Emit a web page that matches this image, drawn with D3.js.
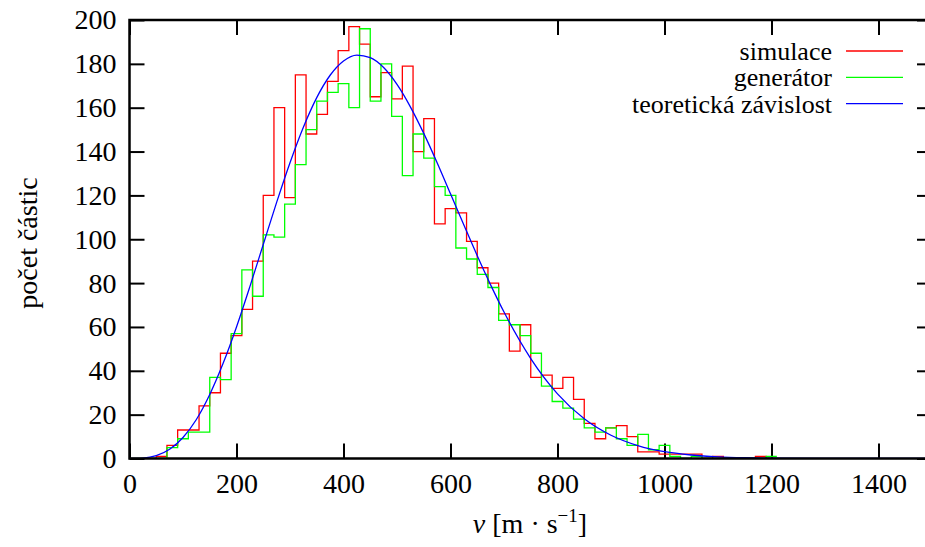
<!DOCTYPE html>
<html lang="cs">
<head>
<meta charset="UTF-8">
<title>Rozdělení rychlostí</title>
<script src="https://cdnjs.cloudflare.com/ajax/libs/d3/7.8.5/d3.min.js"></script>
<style>
    body { margin: 0; background: #fff; }
</style>
</head>
<body>
<svg id="chart" width="925" height="547"></svg>
<script>
// bin centres (width 20 m/s)
const binCenters = d3.range(0, 1201, 20);

// simulace
const simulace = [
    0, 0, 0, 1, 6, 13, 13, 24, 30, 48,
    56, 68, 90, 120, 160, 119, 175, 148, 157, 172,
    186, 197, 189, 165, 176, 164, 179, 140, 155, 107,
    114, 112, 99, 87, 80, 66, 49, 61, 37, 38,
    32, 37, 27, 16, 9, 14, 15, 10, 3, 3,
    2, 2, 2, 2, 0, 1, 0, 0, 0, 1,
    0
];

// generátor
const generator = [
    0, 0, 0, 0, 5, 9, 12, 12, 37, 36,
    57, 86, 74, 102, 101, 116, 134, 150, 163, 167,
    171, 160, 196, 163, 180, 156, 129, 148, 137, 124,
    120, 96, 91, 84, 78, 63, 61, 56, 48, 33,
    26, 23, 18, 14, 12, 14, 9, 6, 11, 4,
    6, 1, 0, 1, 0, 0, 0, 0, 0, 0,
    1
];

// teoretická závislost
const theoryV = [0, 25, 50, 75, 100, 125, 150, 175, 200, 225, 250, 275, 300, 325, 350, 375, 400, 425, 450, 475,
    500, 525, 550, 575, 600, 625, 650, 675, 700, 750, 800, 850, 900, 950, 1000, 1050, 1100, 1150, 1200, 1300, 1500];
const theoryN = [0, 0.2, 1.3, 4.2, 9.6, 17.8, 29.2, 43.4, 60, 78.4, 97.6, 116.8, 134.9, 151.1, 164.6, 174.8, 181.3, 184, 182.8, 178.3,
    170.6, 160.4, 148.3, 134.9, 120.7, 106.5, 92.5, 79.2, 66.8, 45.6, 29.5, 18.1, 10.6, 5.9, 3.1, 1.6, 0.75, 0.34, 0.15, 0.02, 0];

const xTicks = [0, 200, 400, 600, 800, 1000, 1200, 1400];
const yTicks = d3.range(0, 201, 20);

const legendItems = [
    { label: "simulace", color: "#ff0000" },
    { label: "generátor", color: "#00ff00" },
    { label: "teoretická závislost", color: "#0000ff" }
];

const serif = "'Liberation Serif', 'Times New Roman', 'DejaVu Serif', 'Noto Serif', serif";
const fontSize = 28;
const plotL = 129.5, plotR = 932, plotT = 20, plotB = 458.5;
const svg = d3.select("#chart");

const x = d3.scaleLinear().domain([0, 1500]).range([plotL, plotR]);
const y = d3.scaleLinear().domain([0, 200]).range([plotB, plotT]);

svg.append("defs").append("clipPath").attr("id", "plot")
    .append("rect")
    .attr("x", plotL).attr("y", plotT - 2)
    .attr("width", plotR - plotL).attr("height", plotB - plotT + 2);

// axes, ticks inward on all four sides
function styleAxis(g, labels) {
    g.select(".domain").remove();
    g.attr("font-family", serif).attr("font-size", fontSize);
    g.selectAll(".tick line").attr("stroke", "#000").attr("stroke-width", 2);
    if (!labels) g.selectAll(".tick text").remove();
}

svg.append("g").attr("transform", `translate(0,${plotB})`)
    .call(d3.axisBottom(x).tickValues(xTicks).tickSize(-15).tickPadding(15).tickFormat(d3.format("d")))
    .call(g => styleAxis(g, true));
svg.append("g").attr("transform", `translate(0,${plotT})`)
    .call(d3.axisTop(x).tickValues(xTicks).tickSize(-15))
    .call(g => styleAxis(g, false));
svg.append("g").attr("transform", `translate(${plotL},0)`)
    .call(d3.axisLeft(y).tickValues(yTicks).tickSize(-15).tickPadding(13))
    .call(g => styleAxis(g, true));
svg.append("g").attr("transform", `translate(${plotR},0)`)
    .call(d3.axisRight(y).tickValues(yTicks).tickSize(-15))
    .call(g => styleAxis(g, false));

// histograms as steps
const stepLine = d3.line().x(d => x(d[0])).y(d => y(d[1])).curve(d3.curveStepAfter);
function stepPoints(values) {
    const pts = binCenters.map((c, i) => [c - 10, values[i]]);
    pts.push([binCenters[binCenters.length - 1] + 10, values[values.length - 1]]);
    return pts;
}

const plot = svg.append("g").attr("clip-path", "url(#plot)");
plot.append("path").datum(stepPoints(simulace))
    .attr("d", stepLine).attr("fill", "none")
    .attr("stroke", legendItems[0].color).attr("stroke-width", 1.3);
plot.append("path").datum(stepPoints(generator))
    .attr("d", stepLine).attr("fill", "none")
    .attr("stroke", legendItems[1].color).attr("stroke-width", 1.3);
plot.append("path").datum(theoryV.map((v, i) => [v, theoryN[i]]))
    .attr("d", d3.line().x(d => x(d[0])).y(d => y(d[1])).curve(d3.curveMonotoneX))
    .attr("fill", "none")
    .attr("stroke", legendItems[2].color).attr("stroke-width", 1.3);

// frame
svg.append("rect")
    .attr("x", plotL).attr("y", plotT)
    .attr("width", plotR - plotL).attr("height", plotB - plotT)
    .attr("fill", "none").attr("stroke", "#000").attr("stroke-width", 2.5);

// legend
const legend = svg.append("g").attr("font-family", serif).attr("font-size", 26);
legendItems.forEach((d, i) => {
    const ly = 51 + i * 26.3;
    legend.append("text")
        .attr("x", 832).attr("y", ly + 9)
        .attr("text-anchor", "end")
        .text(d.label);
    legend.append("line")
        .attr("x1", 846).attr("x2", 903).attr("y1", ly).attr("y2", ly)
        .attr("stroke", d.color).attr("stroke-width", 1.3);
});

// axis titles
svg.append("text")
    .attr("transform", "translate(37,243) rotate(-90)")
    .attr("text-anchor", "middle")
    .attr("font-family", serif).attr("font-size", fontSize)
    .text("počet částic");

const xt = svg.append("text")
    .attr("x", 530).attr("y", 533)
    .attr("text-anchor", "middle")
    .attr("font-family", serif).attr("font-size", fontSize);
xt.append("tspan").attr("font-style", "italic").text("v");
xt.append("tspan").text(" [m · s");
xt.append("tspan").attr("font-size", 19).attr("dy", -11).text("−1");
xt.append("tspan").attr("dy", 11).text("]");
</script>
</body>
</html>
